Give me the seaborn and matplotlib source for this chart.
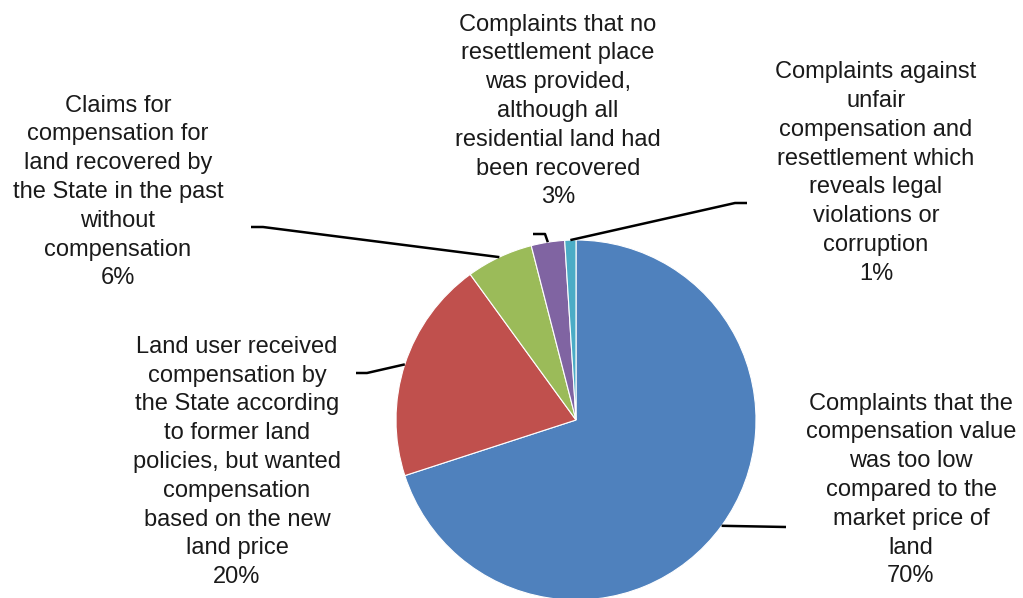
import numpy as np
import matplotlib
matplotlib.use("Agg")
import matplotlib.pyplot as plt
import seaborn as sns

sns.set_theme(style="white")
plt.rcParams['font.family'] = ['Liberation Sans', 'DejaVu Sans']

categories = [
    "Complaints that the\ncompensation value\nwas too low\ncompared to the\nmarket price of\nland",
    "Land user received\ncompensation by\nthe State according\nto former land\npolicies, but wanted\ncompensation\nbased on the new\nland price",
    "Claims for\ncompensation for\nland recovered by\nthe State in the past\nwithout\ncompensation",
    "Complaints that no\nresettlement place\nwas provided,\nalthough all\nresidential land had\nbeen recovered",
    "Complaints against\nunfair\ncompensation and\nresettlement which\nreveals legal\nviolations or\ncorruption",
]
values = [70, 20, 6, 3, 1]
colors = ["#4F81BD", "#C0504D", "#9BBB59", "#8064A2", "#4BACC6"]

W, H = 1023, 598
fig = plt.figure(figsize=(W / 100, H / 100), dpi=100)
ax = fig.add_axes([0, 0, 1, 1])

cx, cy, r = 576, H - 420, 180
wedges, _ = ax.pie(values, colors=colors, startangle=90, counterclock=False,
                   center=(cx, cy), radius=r, frame=True,
                   wedgeprops=dict(linewidth=0.8, edgecolor="white"))
ax.set_xlim(0, W)
ax.set_ylim(0, H)
ax.set_aspect("equal")
ax.axis("off")

# label layout (screen px): text center x, center y, elbow x, end x, elbow y
layout = [
    (911, 490, None, 786, 527),
    (237, 462, 367, 356, 373),
    (118, 192, 263, 251, 227),
    (558, 111, 545, 533, 234),
    (876, 173, 735, 747, 203),
]

for w, cat, val, (tx, ty, ex, lx, ly) in zip(wedges, categories, values, layout):
    ang = np.deg2rad((w.theta1 + w.theta2) / 2)
    px, py = cx + r * np.cos(ang), cy + r * np.sin(ang)
    if ex is None:
        xs, ys = [px, lx], [py, H - ly]
    else:
        xs, ys = [px, ex, lx], [py, H - ly, H - ly]
    ax.plot(xs, ys, color="black", lw=1.8, solid_capstyle="butt", zorder=5)
    ax.text(tx, H - ty, f"{cat}\n{val}%", ha="center", va="center",
            multialignment="center", fontsize=17, color="#1a1a1a",
            linespacing=1.40)

fig.savefig("out.png", dpi=100)
